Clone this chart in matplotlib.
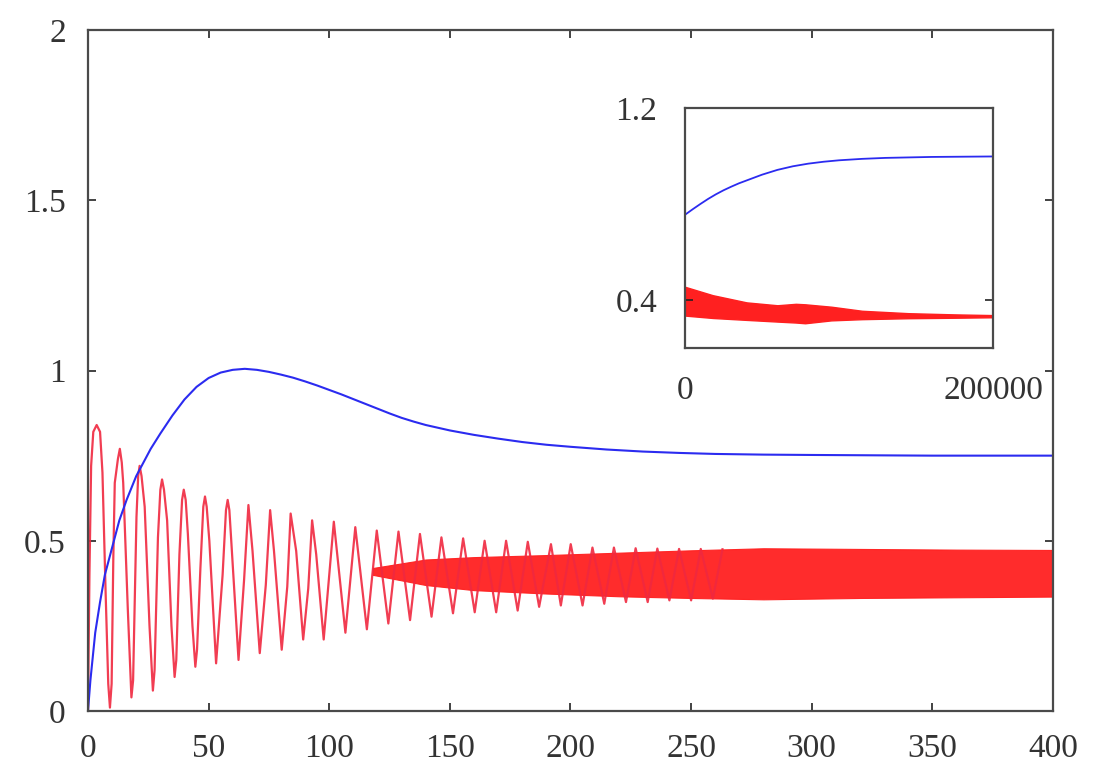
import numpy as np
import matplotlib
matplotlib.use('Agg')
import matplotlib.pyplot as plt

plt.rcParams['font.family'] = ['Liberation Serif', 'DejaVu Serif']

# %% Main panel data
blue_t = [0, 1, 3, 5, 7, 10, 13, 16, 20, 26, 30, 35, 40, 45, 50, 55, 60, 65,
          70, 75, 80, 85, 90, 95, 100, 105, 110, 115, 120, 125, 130, 135,
          140, 145, 150, 160, 170, 180, 190, 200, 215, 230, 245, 260, 280,
          300, 350, 400]
blue_v = [0.0, 0.09, 0.23, 0.32, 0.40, 0.48, 0.56, 0.62, 0.69, 0.77, 0.815,
          0.868, 0.915, 0.952, 0.978, 0.994, 1.002, 1.005, 1.002, 0.996,
          0.988, 0.979, 0.968, 0.956, 0.943, 0.93, 0.916, 0.902, 0.888,
          0.874, 0.861, 0.85, 0.84, 0.832, 0.824, 0.811, 0.80, 0.79, 0.782,
          0.776, 0.768, 0.762, 0.758, 0.755, 0.753, 0.752, 0.75, 0.75]

# turning points of the slow red oscillation (peaks, shoulders, troughs)
red_t = [0, 0.6, 1.3, 2.2, 3.6, 5.0, 6.0, 7.3, 8.4, 9.1, 9.8,
         10.5, 11.1, 12.4, 13.2, 14.0, 14.6, 16.5, 18.0, 18.7,
         20.1, 20.8, 21.4, 22.2, 23.5, 25.5, 26.9, 27.6,
         29.0, 30.0, 30.7, 31.5, 32.8, 34.6, 35.9, 36.6,
         37.9, 39.0, 39.7, 40.5, 41.4, 43.3, 44.5, 45.2,
         46.6, 47.8, 48.5, 49.2, 50.3, 53.1,
         55.8, 57.2, 57.9, 58.6, 59.3, 62.4,
         64.7, 66.5, 68.2, 71.2,
         73.7, 75.5, 77.1, 80.3,
         82.6, 84.0, 86.3, 89.2,
         91.3, 92.9, 94.6, 97.7,
         101.9, 106.7, 110.8, 115.6, 119.7, 124.5, 128.7, 133.5, 137.6,
         142.4, 146.5, 151.3, 155.5, 160.3, 164.4, 169.2, 173.3, 178.1,
         182.3, 187.0, 191.9, 196.0, 200.1, 205.0, 209.1, 214.0, 218.0,
         223.0, 227.0, 232.0, 236.0, 241.0, 245.0, 250.0, 254.0, 259.0,
         263.0]
red_v = [0.0, 0.40, 0.72, 0.82, 0.84, 0.82, 0.70, 0.35, 0.08, 0.01, 0.08,
         0.45, 0.67, 0.74, 0.77, 0.73, 0.67, 0.30, 0.04, 0.09,
         0.57, 0.69, 0.72, 0.69, 0.60, 0.25, 0.06, 0.12,
         0.51, 0.65, 0.68, 0.65, 0.56, 0.25, 0.10, 0.15,
         0.46, 0.62, 0.65, 0.62, 0.52, 0.25, 0.13, 0.18,
         0.42, 0.60, 0.63, 0.60, 0.50, 0.14,
         0.40, 0.59, 0.62, 0.59, 0.51, 0.15,
         0.385, 0.605, 0.47, 0.17,
         0.37, 0.59, 0.47, 0.18,
         0.365, 0.58, 0.47, 0.21,
         0.36, 0.56, 0.46, 0.21,
         0.556, 0.23, 0.54, 0.24, 0.53, 0.257, 0.527, 0.267, 0.52,
         0.277, 0.51, 0.287, 0.507, 0.29, 0.50, 0.29, 0.50, 0.295,
         0.497, 0.306, 0.49, 0.31, 0.49, 0.31, 0.48, 0.315, 0.48,
         0.32, 0.478, 0.32, 0.477, 0.325, 0.476, 0.325, 0.476, 0.33,
         0.475]

# envelope of the fast red oscillation (dense band)
band_t = [118, 140, 160, 190, 220, 250, 280, 320, 360, 400]
band_lo = [0.40, 0.37, 0.355, 0.345, 0.337, 0.332, 0.328, 0.332, 0.334, 0.336]
band_hi = [0.42, 0.445, 0.452, 0.458, 0.465, 0.472, 0.478, 0.476, 0.474, 0.473]

x_ticks = [0, 50, 100, 150, 200, 250, 300, 350, 400]
x_labels = ['0', '50', '100', '150', '200', '250', '300', '350', '400']
y_ticks = [0, 0.5, 1, 1.5, 2]
y_labels = ['0', '0.5', '1', '1.5', '2']

# %% Inset data
ins_blue_t = [0, 5000, 10000, 15000, 20000, 25000, 30000, 35000, 45000,
              50000, 60000, 70000, 80000, 90000, 100000, 115000, 130000,
              145000, 160000, 180000, 200000]
ins_blue_v = [0.755, 0.778, 0.80, 0.821, 0.84, 0.857, 0.872, 0.886, 0.91,
              0.922, 0.942, 0.957, 0.968, 0.976, 0.982, 0.988, 0.992,
              0.994, 0.996, 0.997, 0.998]
ins_red_t = [0, 18000, 40000, 60000, 72000, 78000, 95000, 115000, 145000,
             175000, 200000]
ins_red_hi = [0.455, 0.42, 0.39, 0.378, 0.384, 0.382, 0.372, 0.355, 0.345,
              0.34, 0.337]
ins_red_lo = [0.335, 0.325, 0.317, 0.31, 0.306, 0.303, 0.315, 0.32, 0.324,
              0.326, 0.328]

ins_x_ticks = [0, 200000]
ins_x_labels = ['0', '200000']
ins_y_ticks = [0.4, 1.2]
ins_y_labels = ['0.4', '1.2']

blue = '#2b2bf0'
red = '#f0283f'
band_red = '#ff2020'
frame = '#4a4a4a'
txt = '#333333'
fs = 24


def style_axes(ax):
    for s in ax.spines.values():
        s.set_color(frame)
        s.set_linewidth(1.6)
    ax.tick_params(direction='in', top=True, right=True, length=6, width=1.2,
                   color='#222222', labelsize=fs, labelcolor=txt, pad=16)


# %% Main panel
fig = plt.figure(figsize=(10.93, 7.68), dpi=100)
ax = fig.add_axes([0.0805, 0.0742, 0.8829, 0.8867])
ax.fill_between(band_t, band_lo, band_hi, color=band_red, lw=0.8, alpha=0.95)
ax.plot(red_t, red_v, color=red, lw=1.6, alpha=0.9)
ax.plot(blue_t, blue_v, color=blue, lw=1.5)
ax.set_xlim(0, 400)
ax.set_ylim(0, 2)
ax.set_xticks(x_ticks, x_labels)
ax.set_yticks(y_ticks, y_labels)
style_axes(ax)

# %% Inset
axi = fig.add_axes([0.6267, 0.5469, 0.2818, 0.3125])
axi.fill_between(ins_red_t, ins_red_lo, ins_red_hi, color=band_red, lw=1.0)
axi.plot(ins_blue_t, ins_blue_v, color=blue, lw=1.3)
axi.set_xlim(0, 200000)
axi.set_ylim(0.2, 1.2)
axi.set_xticks(ins_x_ticks, ins_x_labels)
axi.set_yticks(ins_y_ticks, ins_y_labels)
style_axes(axi)
axi.tick_params(pad=20)

fig.savefig('out.png', dpi=100)
